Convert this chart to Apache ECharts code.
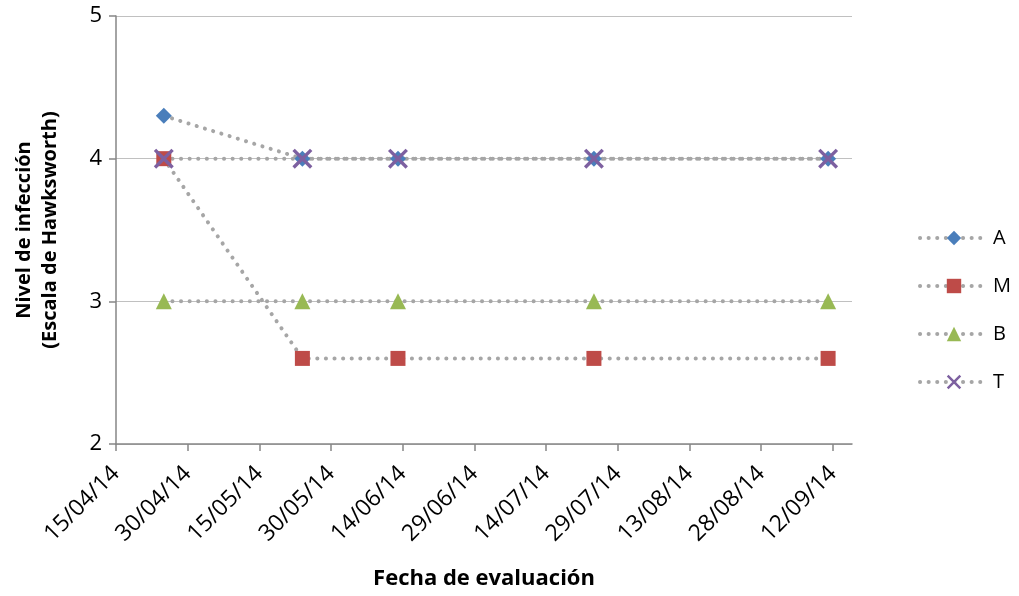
<!DOCTYPE html>
<html>
<head>
<meta charset="utf-8">
<script src="https://cdn.jsdelivr.net/npm/echarts@6/dist/echarts.min.js"></script>
<style>
    html, body { margin: 0; padding: 0; background: #fff; }
    #chart { width: 1019px; height: 596px; }
</style>
</head>
<body>
<div id="chart"></div>
<script>
// fecha de inicio del eje y fechas de evaluación
var fechaInicio = '2014-04-15';
var fechaFin = '2014-09-16';
var fechas = ['2014-04-25', '2014-05-24', '2014-06-13', '2014-07-24', '2014-09-11'];

var serieA = [4.3, 4, 4, 4, 4];
var serieM = [4, 2.6, 2.6, 2.6, 2.6];
var serieB = [3, 3, 3, 3, 3];
var serieT = [4, 4, 4, 4, 4];

var yTicks = [2, 3, 4, 5];

var DIA = 86400000;
function dias(f) {
    return (Date.parse(f) - Date.parse(fechaInicio)) / DIA;
}
function pad(n) {
    return n < 10 ? '0' + n : '' + n;
}
function etiqueta(v) {
    var d = new Date(Date.parse(fechaInicio) + v * DIA);
    return pad(d.getUTCDate()) + '/' + pad(d.getUTCMonth() + 1) + '/' + pad(d.getUTCFullYear() % 100);
}
function puntos(valores) {
    return fechas.map(function (f, i) {
        return [dias(f), valores[i]];
    });
}

var fuente = '"Open Sans", "Noto Sans", sans-serif';
var gris = '#a6a6a6';
var punteado = {
    color: gris,
    width: 4,
    type: [0.1, 8.5],
    cap: 'round'
};

var cruz = 'path://M0,1.2L1.2,0L10,8.8L8.8,10Z M8.8,0L10,1.2L1.2,10L0,8.8Z';

function serie(nombre, valores, simbolo, tam, color) {
    return {
        name: nombre,
        type: 'line',
        data: puntos(valores),
        symbol: simbolo,
        symbolSize: tam,
        showAllSymbol: true,
        lineStyle: punteado,
        itemStyle: {
            color: color
        },
        emphasis: { disabled: true },
        animation: false
    };
}

var chart = echarts.init(document.getElementById('chart'));
var option = {
    animation: false,
    grid: {
        left: 116,
        right: 167,
        top: 16,
        bottom: 152,
        containLabel: false,
        outerBoundsMode: 'none'
    },
    legend: {
        orient: 'vertical',
        left: 913,
        top: 223,
        itemWidth: 68,
        itemHeight: 18,
        itemGap: 28,
        lineStyle: {
            width: 4,
            type: [0.1, 8.5],
            cap: 'round'
        },
        textStyle: {
            fontFamily: fuente,
            fontSize: 20,
            color: '#000'
        },
        data: ['A', 'M', 'B', 'T']
    },
    xAxis: {
        type: 'value',
        min: 0,
        max: dias(fechaFin),
        interval: 15,
        name: 'Fecha de evaluación',
        nameLocation: 'middle',
        nameGap: 124,
        nameTextStyle: {
            fontFamily: fuente,
            fontSize: 22,
            fontWeight: 'bold',
            color: '#000'
        },
        axisLine: {
            lineStyle: { color: '#868686', width: 1.5 }
        },
        axisTick: {
            show: true,
            length: 7,
            lineStyle: { color: '#868686', width: 1.5 }
        },
        axisLabel: {
            rotate: 45,
            margin: 26,
            fontFamily: fuente,
            fontSize: 23,
            color: '#000',
            showMaxLabel: false,
            formatter: function (v) {
                return etiqueta(v);
            }
        },
        splitLine: { show: false }
    },
    yAxis: {
        type: 'value',
        min: yTicks[0],
        max: yTicks[yTicks.length - 1],
        interval: 1,
        name: 'Nivel de infección\n(Escala de Hawksworth)',
        nameLocation: 'middle',
        nameRotate: 90,
        nameGap: 53,
        nameTextStyle: {
            fontFamily: fuente,
            fontSize: 20,
            fontWeight: 'bold',
            color: '#000',
            lineHeight: 26
        },
        axisLine: {
            show: true,
            lineStyle: { color: '#868686', width: 1.5 }
        },
        axisTick: {
            show: true,
            length: 7,
            lineStyle: { color: '#868686', width: 1.5 }
        },
        axisLabel: {
            margin: 14,
            fontFamily: fuente,
            fontSize: 22,
            color: '#000'
        },
        splitLine: {
            show: true,
            lineStyle: { color: '#c0c0c0', width: 1.2 }
        }
    },
    series: [
        serie('A', serieA, 'diamond', 16, '#4a7ebb'),
        serie('M', serieM, 'rect', 15, '#be4b48'),
        serie('B', serieB, 'triangle', 16, '#98b954'),
        serie('T', serieT, cruz, 20, '#7d60a0')
    ]
};
chart.setOption(option);
</script>
</body>
</html>
